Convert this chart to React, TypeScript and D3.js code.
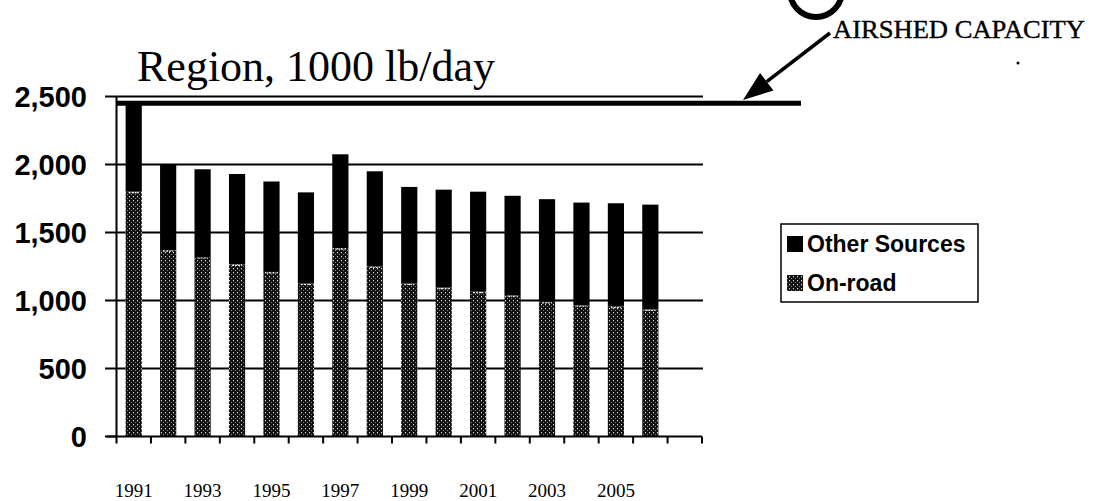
import React from "react";
import * as d3 from "d3";

const categories = ["1991","1992","1993","1994","1995","1996","1997","1998","1999","2000","2001","2002","2003","2004","2005","2006","2007"];
const onRoad = [1800,1370,1320,1265,1210,1125,1385,1250,1125,1095,1065,1040,990,965,955,935];
const otherSources = [640,630,645,665,665,670,690,700,710,720,735,730,755,755,760,770];
const yTicks = [0,500,1000,1500,2000,2500];
const xTickLabels = ["1991","1993","1995","1997","1999","2001","2003","2005"];
const airshedCapacity = 2450;
const seriesNames = ["Other Sources","On-road"];

const W = 1095, H = 501;
const left = 116.5, right = 702, top = 96.5, bottom = 436.5;

export default function App() {
  const x = d3.scaleBand<string>().domain(categories).range([left, right]).padding(0);
  const y = d3.scaleLinear().domain([0, 2500]).range([bottom, top]);
  const bw = x.bandwidth() * 0.47;
  const fmt = d3.format(",");
  const boundaries = categories.map((c) => x(c)!).concat([right]);

  const tip = [743, 100];
  const tail = [830, 33];
  const dx = tip[0] - tail[0], dy = tip[1] - tail[1];
  const len = Math.hypot(dx, dy);
  const ux = dx / len, uy = dy / len;
  const hl = 30, hw = 11;
  const bc = [tip[0] - ux * hl, tip[1] - uy * hl];
  const head = `${tip[0]},${tip[1]} ${bc[0] - uy * hw},${bc[1] + ux * hw} ${bc[0] + uy * hw},${bc[1] - ux * hw}`;

  return (
    <svg width={W} height={H} style={{ position: "absolute", left: 0, top: 0, background: "#fff" }}>
      <defs>
        <pattern id="onroad" patternUnits="userSpaceOnUse" width="4" height="4">
          <rect width="4" height="4" fill="#111" />
          <rect x="1" y="0" width="1" height="1.3" fill="#ddd" />
          <rect x="3" y="2" width="1" height="1" fill="#888" />
        </pattern>
      </defs>

      {/* title */}
      <text x={137} y={81} fontFamily="'Liberation Serif', serif" fontSize={44} fill="#000">Region, 1000 lb/day</text>

      {/* gridlines */}
      {yTicks.filter((t) => t > 0).map((t) => (
        <line key={"g" + t} x1={left} x2={703} y1={y(t)} y2={y(t)} stroke="#000" strokeWidth={2} />
      ))}
      {/* y ticks + labels */}
      {yTicks.map((t) => (
        <g key={"y" + t}>
          <line x1={105} x2={left} y1={y(t)} y2={y(t)} stroke="#000" strokeWidth={2} />
          <text x={87} y={y(t) + 10} textAnchor="end" fontFamily="'Liberation Sans', Arial, sans-serif" fontWeight="bold" fontSize={29} fill="#000">{fmt(t)}</text>
        </g>
      ))}

      {/* bars */}
      {onRoad.map((v, i) => {
        const cx = x(categories[i])! + x.bandwidth() / 2;
        const total = v + otherSources[i];
        return (
          <g key={"b" + i}>
            <rect x={cx - bw / 2} y={y(total)} width={bw} height={y(v) - y(total)} fill="#000" />
            <rect x={cx - bw / 2} y={y(v)} width={bw} height={y(0) - y(v)} fill="url(#onroad)" />
            <line x1={cx - bw / 2 + 3} x2={cx + bw / 2 - 3} y1={y(v) + 1} y2={y(v) + 1} stroke="#eee" strokeWidth={1.2} strokeDasharray="2 1" />
          </g>
        );
      })}

      {/* capacity line */}
      <line x1={left} x2={801} y1={y(airshedCapacity)} y2={y(airshedCapacity)} stroke="#000" strokeWidth={5} />

      {/* axes */}
      <line x1={left} x2={left} y1={top} y2={bottom + 1} stroke="#000" strokeWidth={2} />
      <line x1={107} x2={right} y1={bottom} y2={bottom} stroke="#000" strokeWidth={2} />
      {boundaries.map((b, i) => (
        <line key={"xt" + i} x1={b} x2={b} y1={bottom} y2={bottom + 7} stroke="#000" strokeWidth={2} />
      ))}
      {xTickLabels.map((l) => (
        <text key={"xl" + l} x={x(l)! + x.bandwidth() / 2} y={497} textAnchor="middle" fontFamily="'Liberation Serif', serif" fontSize={19} fill="#000">{l}</text>
      ))}

      {/* legend */}
      <rect x={781} y={224} width={197} height={78} fill="#fff" stroke="#000" strokeWidth={1.5} />
      <rect x={787} y={236} width={16} height={16} fill="#000" />
      <text x={807} y={252} fontFamily="'Liberation Sans', Arial, sans-serif" fontWeight="bold" fontSize={23} fill="#000">{seriesNames[0]}</text>
      <rect x={787} y={275} width={16} height={16} fill="url(#onroad)" />
      <text x={807} y={291} fontFamily="'Liberation Sans', Arial, sans-serif" fontWeight="bold" fontSize={23} fill="#000">{seriesNames[1]}</text>

      {/* annotation */}
      <circle cx={816} cy={-9} r={26} fill="none" stroke="#000" strokeWidth={6} />
      <text x={833} y={38} fontFamily="'Liberation Serif', serif" fontSize={26} textLength={252} lengthAdjust="spacingAndGlyphs" fill="#000" stroke="#000" strokeWidth={0.4}>AIRSHED CAPACITY</text>
      <line x1={tail[0]} y1={tail[1]} x2={bc[0]} y2={bc[1]} stroke="#000" strokeWidth={3.5} />
      <polygon points={head} fill="#000" />
      <circle cx={1018} cy={63} r={1.5} fill="#000" />
    </svg>
  );
}
